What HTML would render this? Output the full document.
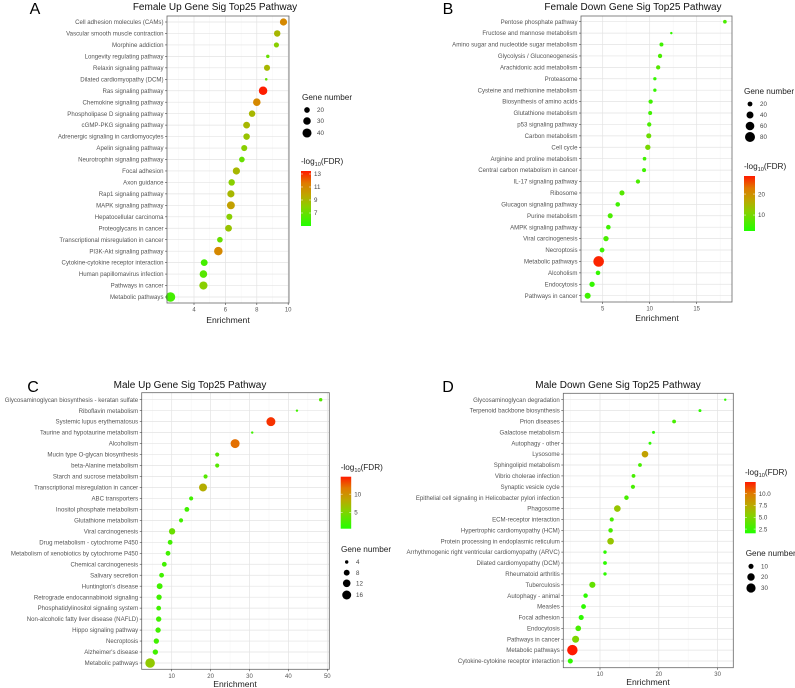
<!DOCTYPE html>
<html><head><meta charset="utf-8">
<style>
html,body{margin:0;padding:0;background:#fff;}
svg{display:block;font-family:"Liberation Sans",sans-serif;}
</style></head>
<body>
<svg id="fig" width="795" height="688" viewBox="0 0 795 688" xmlns="http://www.w3.org/2000/svg">
<defs>
<linearGradient id="cgrad" x1="0" y1="1" x2="0" y2="0">
<stop offset="0" stop-color="#22ff00"/>
<stop offset="0.35" stop-color="#88d000"/>
<stop offset="0.55" stop-color="#bba800"/>
<stop offset="0.78" stop-color="#e07a00"/>
<stop offset="1" stop-color="#ff1a00"/>
</linearGradient>
</defs>
</svg>
<script>
// Panel A data
const aPathways=["Cell adhesion molecules (CAMs)","Vascular smooth muscle contraction","Morphine addiction","Longevity regulating pathway","Relaxin signaling pathway","Dilated cardiomyopathy (DCM)","Ras signaling pathway","Chemokine signaling pathway","Phospholipase D signaling pathway","cGMP-PKG signaling pathway","Adrenergic signaling in cardiomyocytes","Apelin signaling pathway","Neurotrophin signaling pathway","Focal adhesion","Axon guidance","Rap1 signaling pathway","MAPK signaling pathway","Hepatocellular carcinoma","Proteoglycans in cancer","Transcriptional misregulation in cancer","PI3K-Akt signaling pathway","Cytokine-cytokine receptor interaction","Human papillomavirus infection","Pathways in cancer","Metabolic pathways"];
const aEnrichment=[9.7,9.3,9.25,8.7,8.65,8.6,8.4,8.0,7.7,7.35,7.35,7.2,7.05,6.7,6.4,6.35,6.35,6.25,6.2,5.65,5.55,4.65,4.6,4.6,2.5];
const aGenes=[28,24,18,12,22,10,36,30,24,26,24,22,20,28,24,28,32,22,26,20,36,26,30,34,44];
const aFdr=[11,9,8,7,9,7,13.4,11,9,9,8.5,8,7,9,8,9,10,8,8.5,7,11,6,6.5,8,6];
const aXTicks=[4,6,8,10];
const aSizeTicks=[20,30,40];
const aColorTicks=[13,11,9,7];
// Panel B data
const bPathways=["Pentose phosphate pathway","Fructose and mannose metabolism","Amino sugar and nucleotide sugar metabolism","Glycolysis / Gluconeogenesis","Arachidonic acid metabolism","Proteasome","Cysteine and methionine metabolism","Biosynthesis of amino acids","Glutathione metabolism","p53 signaling pathway","Carbon metabolism","Cell cycle","Arginine and proline metabolism","Central carbon metabolism in cancer","IL-17 signaling pathway","Ribosome","Glucagon signaling pathway","Purine metabolism","AMPK signaling pathway","Viral carcinogenesis","Necroptosis","Metabolic pathways","Alcoholism","Endocytosis","Pathways in cancer"];
const bEnrichment=[18.0,12.3,11.25,11.1,10.9,10.55,10.55,10.1,10.05,9.95,9.9,9.8,9.45,9.4,8.75,7.05,6.6,5.8,5.6,5.35,4.93,4.57,4.5,3.87,3.4];
const bGenes=[12,6,14,16,16,10,10,16,14,16,22,24,12,14,16,22,18,22,18,24,20,90,18,24,30];
const bFdr=[6,4,5,6,7,4,4,5,5,6,9,10,5,5,6,7,5,6,5,6,5,28,4,4,5];
const bXTicks=[5,10,15];
const bSizeTicks=[20,40,60,80];
const bColorTicks=[20,10];
// Panel C data
const cPathways=["Glycosaminoglycan biosynthesis - keratan sulfate","Riboflavin metabolism","Systemic lupus erythematosus","Taurine and hypotaurine metabolism","Alcoholism","Mucin type O-glycan biosynthesis","beta-Alanine metabolism","Starch and sucrose metabolism","Transcriptional misregulation in cancer","ABC transporters","Inositol phosphate metabolism","Glutathione metabolism","Viral carcinogenesis","Drug metabolism - cytochrome P450","Metabolism of xenobiotics by cytochrome P450","Chemical carcinogenesis","Salivary secretion","Huntington's disease","Retrograde endocannabinoid signaling","Phosphatidylinositol signaling system","Non-alcoholic fatty liver disease (NAFLD)","Hippo signaling pathway","Necroptosis","Alzheimer's disease","Metabolic pathways"];
const cEnrichment=[48.3,42.2,35.5,30.7,26.3,21.7,21.7,18.7,18.05,15.0,13.9,12.4,10.1,9.6,9.05,8.1,7.4,6.9,6.75,6.65,6.65,6.5,6.05,5.8,4.45];
const cGenes=[4,3,16,3,16,5,5,5,13,5,6,5,9,6,6,6,6,8,7,6,7,7,7,7,18];
const cFdr=[3,2,14,2,12,3,3,3,8,2,2,2,4,2,2,2,2,2,2,2,2,2,2,2,6];
const cXTicks=[10,20,30,40,50];
const cSizeTicks=[4,8,12,16];
const cColorTicks=[10,5];
// Panel D data
const dPathways=["Glycosaminoglycan degradation","Terpenoid backbone biosynthesis","Prion diseases","Galactose metabolism","Autophagy - other","Lysosome","Sphingolipid metabolism","Vibrio cholerae infection","Synaptic vesicle cycle","Epithelial cell signaling in Helicobacter pylori infection","Phagosome","ECM-receptor interaction","Hypertrophic cardiomyopathy (HCM)","Protein processing in endoplasmic reticulum","Arrhythmogenic right ventricular cardiomyopathy (ARVC)","Dilated cardiomyopathy (DCM)","Rheumatoid arthritis","Tuberculosis","Autophagy - animal","Measles","Focal adhesion","Endocytosis","Pathways in cancer","Metabolic pathways","Cytokine-cytokine receptor interaction"];
const dEnrichment=[31.3,27.0,22.6,19.1,18.5,17.65,16.8,15.7,15.6,14.5,12.95,12.0,11.8,11.8,10.85,10.85,10.85,8.7,7.55,7.2,6.8,6.3,5.85,5.3,4.95];
const dGenes=[3,4,6,4,4,16,6,6,7,8,16,7,8,16,5,6,5,14,8,9,10,12,18,38,10];
const dFdr=[2,2,3,2,2,8,3,3,3,3,6,3,3,6,2,2,2,4,2,2,2,3,5,12.5,2];
const dXTicks=[10,20,30];
const dSizeTicks=[10,20,30];
const dColorTicks=["10.0","7.5","5.0","2.5"];

const NS="http://www.w3.org/2000/svg";
const svg=document.getElementById('fig');
function mk(tag,attrs,parent){const e=document.createElementNS(NS,tag);for(const k in attrs)e.setAttribute(k,attrs[k]);(parent||svg).appendChild(e);return e;}
function lerp(a,b,t){return a+(b-a)*t;}
const stops=[[0,[0x22,0xff,0x00]],[0.35,[0x88,0xd0,0x00]],[0.55,[0xbb,0xa8,0x00]],[0.78,[0xe0,0x7a,0x00]],[1,[0xff,0x1a,0x00]]];
function colorAt(t){t=Math.max(0,Math.min(1,t));for(let i=1;i<stops.length;i++){if(t<=stops[i][0]){const s0=stops[i-1],s1=stops[i];const u=(t-s0[0])/(s1[0]-s0[0]);const c=s0[1].map((v,j)=>Math.round(lerp(v,s1[1][j],u)));return `rgb(${c[0]},${c[1]},${c[2]})`;}}return 'rgb(255,26,0)';}

function panel(cfg){
  const g=mk('g',{});
  
  
  const n=cfg.paths.length;
  const xs=v=>cfg.x0+(v-cfg.v0)*cfg.pxPerUnit;
  const ys=i=>cfg.rowTop+i*(cfg.rowBot-cfg.rowTop)/(n-1);
  const rs=k=>Math.sqrt(cfg.rmin*cfg.rmin+(cfg.rmax*cfg.rmax-cfg.rmin*cfg.rmin)*(k-cfg.nmin)/(cfg.nmax-cfg.nmin));
  const bx=cfg.box;
  mk('rect',{x:bx[0],y:bx[1],width:bx[2]-bx[0],height:bx[3]-bx[1],fill:'#fff'},g);
  const step=cfg.xTicks[1]-cfg.xTicks[0];
  for(let v=cfg.xTicks[0]-step*2;v<=cfg.xTicks[cfg.xTicks.length-1]+step*2;v+=step/2){
    const x=xs(v); if(x<=bx[0]||x>=bx[2])continue;
    const major=Math.abs((v-cfg.xTicks[0])/step-Math.round((v-cfg.xTicks[0])/step))<1e-6;
    mk('line',{x1:x,x2:x,y1:bx[1],y2:bx[3],stroke:major?'#e3e3e3':'#f1f1f1','stroke-width':major?0.7:0.4},g);
  }
  for(let i=0;i<n;i++){const y=ys(i);mk('line',{x1:bx[0],x2:bx[2],y1:y,y2:y,stroke:'#e3e3e3','stroke-width':0.7},g);}
  for(let i=0;i<n;i++){
    const t=(cfg.fdr[i]-cfg.clo)/(cfg.chi-cfg.clo);
    const c=mk('circle',{cx:xs(cfg.enr[i]),cy:ys(i),r:rs(cfg.genes[i]),fill:colorAt(t)},g);
    
    
  }
  mk('rect',{x:bx[0],y:bx[1],width:bx[2]-bx[0],height:bx[3]-bx[1],fill:'none',stroke:'#666','stroke-width':0.8},g);
  for(let i=0;i<n;i++){
    const y=ys(i);
    mk('line',{x1:bx[0]-2,x2:bx[0],y1:y,y2:y,stroke:'#444','stroke-width':0.6},g);
    const t=mk('text',{x:bx[0]-3.5,y:y+2.1,'font-size':6.1,fill:'#555','text-anchor':'end'},g);
    t.textContent=cfg.paths[i];
    
    
  }
  for(const v of cfg.xTicks){
    const x=xs(v);
    mk('line',{x1:x,x2:x,y1:bx[3],y2:bx[3]+2,stroke:'#444','stroke-width':0.6},g);
    const t=mk('text',{x:x,y:bx[3]+8.5,'font-size':6,fill:'#555','text-anchor':'middle'},g);
    t.textContent=v;
    
    
  }
  let t=mk('text',{x:cfg.xtitle[0],y:cfg.xtitle[1],'font-size':8.6,fill:'#222','text-anchor':'middle'},g);
  t.textContent='Enrichment';
  
  
  t=mk('text',{x:cfg.title[0],y:cfg.title[1],'font-size':10,fill:'#111','text-anchor':'middle'},g);
  t.textContent=cfg.titleText;
  
  
  t=mk('text',{x:cfg.letter[0],y:cfg.letter[1],'font-size':16,fill:'#000','text-anchor':'middle'},g);
  t.textContent=cfg.id;
  
  
  const sl=cfg.sizeLeg;
  t=mk('text',{x:sl.x,y:sl.ty,'font-size':8.2,fill:'#222'},g);
  t.textContent='Gene number';
  
  
  cfg.sizeTicks.forEach((k,j)=>{
    const y=sl.ys[j];
    const c=mk('circle',{cx:sl.cx,cy:y,r:rs(k),fill:'#000'},g);
    
    
    const l=mk('text',{x:sl.lx,y:y+2.2,'font-size':6.2,fill:'#444'},g);
    l.textContent=k;
    
    
  });
  const cl=cfg.colLeg;
  t=mk('text',{x:cl.x,y:cl.ty,'font-size':8.2,fill:'#222'},g);
  t.innerHTML='-log<tspan font-size="5.6" dy="2">10</tspan><tspan dy="-2">(FDR)</tspan>';
  
  
  const bar=mk('rect',{x:cl.x,y:cl.y0,width:cl.w,height:cl.y1-cl.y0,fill:'url(#cgrad)'},g);
  
  
  const cy=v=>cl.y1-(v-cfg.clo)/(cfg.chi-cfg.clo)*(cl.y1-cl.y0);
  cfg.colorTicks.forEach(v=>{
    const y=cy(parseFloat(v));
    mk('line',{x1:cl.x,x2:cl.x+2,y1:y,y2:y,stroke:'#fff','stroke-width':0.5},g);
    mk('line',{x1:cl.x+cl.w-2,x2:cl.x+cl.w,y1:y,y2:y,stroke:'#fff','stroke-width':0.5},g);
    const l=mk('text',{x:cl.x+cl.w+3,y:y+2.2,'font-size':6.2,fill:'#444'},g);
    l.textContent=v;
    
    
  });
}

panel({id:'A',titleText:'Female Up Gene Sig Top25 Pathway',paths:aPathways,enr:aEnrichment,genes:aGenes,fdr:aFdr,xTicks:aXTicks,sizeTicks:aSizeTicks,colorTicks:aColorTicks,
  box:[167,16,289,303],x0:194,v0:4,pxPerUnit:15.7,rowTop:22,rowBot:297,nmin:10,nmax:44,rmin:1.3,rmax:4.8,clo:5.0,chi:13.46,
  xtitle:[228,323],title:[215,10],letter:[35,14],
  sizeLeg:{x:302,ty:100,cx:307,lx:317,ys:[110,121,133]},colLeg:{x:301,ty:164,w:10,y0:171,y1:226}});
panel({id:'B',titleText:'Female  Down Gene Sig Top25 Pathway',paths:bPathways,enr:bEnrichment,genes:bGenes,fdr:bFdr,xTicks:bXTicks,sizeTicks:bSizeTicks,colorTicks:bColorTicks,
  box:[581,16,732,302],x0:602.7,v0:5,pxPerUnit:9.4,rowTop:21.7,rowBot:295.7,nmin:6,nmax:90,rmin:1.2,rmax:5.3,clo:2.4,chi:28.6,
  xtitle:[657,321],title:[633,10],letter:[448,14],
  sizeLeg:{x:744,ty:94,cx:750,lx:760,ys:[104,115,126,137]},colLeg:{x:744,ty:169,w:11,y0:176,y1:231}});
panel({id:'C',titleText:'Male  Up Gene Sig Top25 Pathway',paths:cPathways,enr:cEnrichment,genes:cGenes,fdr:cFdr,xTicks:cXTicks,sizeTicks:cSizeTicks,colorTicks:cColorTicks,
  box:[141.7,392.7,329.3,669.3],x0:171.7,v0:10,pxPerUnit:3.89,rowTop:399.7,rowBot:663,nmin:3,nmax:18,rmin:1.2,rmax:4.8,clo:0.5,chi:14.8,
  xtitle:[235,687],title:[190,388],letter:[33,392],
  sizeLeg:{x:341,ty:552,cx:346.7,lx:356,ys:[562,572.7,583.3,595]},colLeg:{x:340.7,ty:470,w:10.5,y0:476.7,y1:528.7}});
panel({id:'D',titleText:'Male  Down Gene Sig Top25 Pathway',paths:dPathways,enr:dEnrichment,genes:dGenes,fdr:dFdr,xTicks:dXTicks,sizeTicks:dSizeTicks,colorTicks:dColorTicks,
  box:[563.3,393.3,733.3,667.7],x0:600,v0:10,pxPerUnit:5.88,rowTop:399.7,rowBot:661,nmin:3,nmax:38,rmin:1.2,rmax:5.2,clo:1.6,chi:12.5,
  xtitle:[648,685],title:[618,388],letter:[448,392],
  sizeLeg:{x:745.7,ty:556,cx:751,lx:761,ys:[566.3,577,588]},colLeg:{x:745,ty:475,w:10.7,y0:482,y1:533.3}});
</script>
</body></html>
